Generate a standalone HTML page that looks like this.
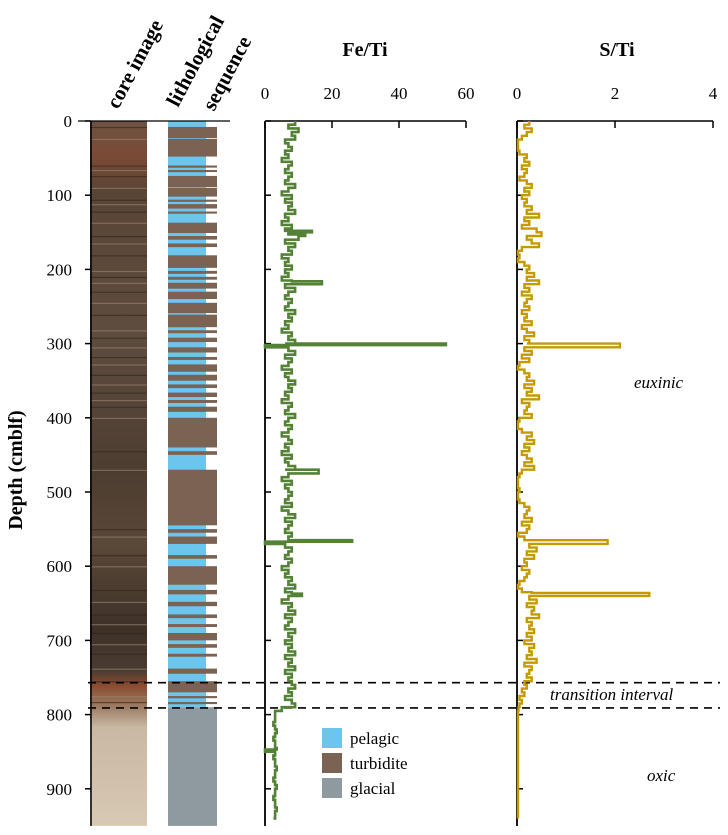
<!DOCTYPE html>
<html><head><meta charset="utf-8"><style>
body{margin:0;background:#fff;}
svg{display:block;font-family:"Liberation Serif",serif;}
</style></head><body>
<svg id="chart" width="728" height="835" viewBox="0 0 728 835" xmlns="http://www.w3.org/2000/svg">
<defs>
<linearGradient id="coreGrad" x1="0" y1="0" x2="0" y2="1">
<stop offset="0" stop-color="#6e5342"/><stop offset="0.05" stop-color="#7a4a36"/><stop offset="0.1" stop-color="#5a4535"/>
<stop offset="0.3" stop-color="#5e4c3f"/><stop offset="0.5" stop-color="#4d3d30"/><stop offset="0.6" stop-color="#5a4838"/>
<stop offset="0.72" stop-color="#3e3128"/><stop offset="0.78" stop-color="#4a3c33"/><stop offset="0.8" stop-color="#8a4a2e"/>
<stop offset="0.83" stop-color="#9a7a62"/><stop offset="0.86" stop-color="#c9b8a2"/><stop offset="1" stop-color="#d8c9b4"/>
</linearGradient>
</defs>
<g id="core"></g>
<g id="litho"></g>
<g id="axes"></g>
<g id="series"></g>
<g id="labels"></g>
</svg>
<script>
const feValues=[9,7,10,8,9,6,7,8,6,7,5,8,7,6,8,7,6,9,7,5,8,
6,8,7,9,6,7,5,8,6,7,10,6,9,7,8,5,7,6,8,6,
7,5,8,6,9,7,6,8,7,6,9,7,8,6,7,5,8,7,9,6,
7,9,6,8,7,5,8,6,7,9,7,8,6,7,5,8,7,6,9,7,
6,8,7,5,7,8,6,7,5,8,6,7,9,6,7,5,8,6,7,8,
7,6,8,5,7,9,6,8,7,6,8,7,9,6,8,7,6,8,7,5,
7,6,8,7,9,6,8,7,5,8,7,9,6,8,7,6,9,7,8,6,
8,7,9,6,8,7,9,6,8,7,8,9,7,8,6,8,9,5,3,3,
3,2.5,3,3.5,3,2.5,3,3,3.5,3,2.5,3,3,3.5,3,3,2.5,3,3.5,3,3,2.5,3,3,3.5,3,3,2.5];
const feSpikeDepth=[148,153,216,300,302,470,565,567,637,847];
const feSpikeValues=[14,12,17,54,0,16,26,0,11,0];
const sValues=[.25,.15,.3,.2,.1,.02,.02,.02,.05,.2,.15,.25,.1,.2,.15,.05,.2,.3,.15,.25,.1,
.2,.15,.3,.2,.45,.15,.25,.1,.4,.5,.2,.3,.45,.1,.02,.05,.02,.15,.25,.2,
.35,.2,.45,.15,.25,.1,.3,.2,.15,.25,.1,.2,.15,.3,.1,.2,.35,.15,.25,.2,
.15,.3,.1,.25,.05,.02,.15,.25,.2,.35,.15,.3,.2,.45,.1,.25,.2,.15,.3,.05,
.02,.02,.1,.3,.2,.35,.15,.25,.1,.2,.3,.15,.35,.1,.05,.02,.02,.02,.05,.02,
.02,.05,.15,.25,.2,.15,.3,.1,.25,.2,.02,.15,.3,.25,.4,.2,.35,.15,.2,.1,
.25,.2,.15,.05,.02,.1,.3,.25,.4,.2,.35,.3,.45,.2,.3,.25,.35,.2,.3,.15,
.35,.25,.3,.2,.4,.15,.3,.25,.2,.3,.15,.2,.1,.15,.05,.1,.05,.03,.02,.02,
.02,.02,.02,.02,.02,.02,.02,.02,.02,.02,.02,.02,.02,.02,.02,.02,.02,.02,.02,.02,.02,.02,.02,.02,.02,.02,.02,.02];
const sSpikeDepth=[300,565,636];
const sSpikeValues=[2.1,1.85,2.7];
const depthStep=5;
const depthTicks=[0,100,200,300,400,500,600,700,800,900];
const feTicks=[0,20,40,60];
const sTicks=[0,2,4];
const turbidites=[[8,23],[24,48],[60,63],[66,69],[74,89],[90,102],[106,109],[112,118],[122,125],[137,151],[155,160],[165,170],[181,198],[202,206],[210,214],[218,226],[230,240],[245,259],[261,278],[282,286],[292,298],[305,312],[318,322],[328,338],[342,350],[355,360],[366,372],[376,380],[385,392],[400,440],[445,450],[470,545],[550,555],[560,570],[585,590],[600,625],[632,638],[648,654],[665,670],[678,682],[690,700],[705,710],[718,722],[738,745],[755,770],[775,778],[783,786]];
const pelagicEnd=790, coreBottom=950;

const NS="http://www.w3.org/2000/svg";
const y=d=>121+d*0.742;
const xFe=v=>265+v*3.35;
const xS=v=>517+v*49;
function mk(tag,attrs,parent,text){const e=document.createElementNS(NS,tag);for(const k in attrs)e.setAttribute(k,attrs[k]);if(text!==undefined)e.textContent=text;document.getElementById(parent).appendChild(e);return e;}

let c=mk('rect',{x:90,y:121,width:57,height:y(coreBottom)-121,fill:'url(#coreGrad)'},'core');


for(let i=0;i<turbidites.length;i++){const t=turbidites[i];
 let s=mk('rect',{x:90,y:y(t[0]),width:57,height:1.2,fill:(i%2?'#9a8574':'#2e241d'),opacity:0.6},'core');
 
 }

let p=mk('rect',{x:168,y:121,width:38,height:y(pelagicEnd)-121,fill:'#6cc5ec'},'litho');


for(const t of turbidites){
 let r=mk('rect',{x:168,y:y(t[0]),width:49,height:Math.max(1,y(t[1])-y(t[0])),fill:'#7b6353'},'litho');
 
 
 let w=mk('rect',{x:206,y:y(t[1]),width:11,height:1,fill:'#fff'},'litho');
 
 }
let g=mk('rect',{x:168,y:y(pelagicEnd),width:49,height:y(coreBottom)-y(pelagicEnd),fill:'#8f9aa0'},'litho');



function line(x1,y1,x2,y2,name,w,dash){const l=mk('line',{x1,y1,x2,y2,stroke:'#000','stroke-width':w||1.5},'axes');if(dash)l.setAttribute('stroke-dasharray',dash);
 
 return l;}
line(78,121,230,121,'core-top-line',1.2);
line(91,121,91,y(coreBottom),'depth-axis',1.5);
for(const d of depthTicks){line(85,y(d),91,y(d),'depth-tick');
 const t=mk('text',{x:72,y:y(d)+6,'text-anchor':'end','font-size':17},'labels',d);
 
 }
line(265,121,265,826,'fe-axis',1.8);
line(265,121,466,121,'fe-top-axis',1.5);
for(const v of feTicks){line(xFe(v),121,xFe(v),128,'fe-tick');
 const t=mk('text',{x:xFe(v),y:99,'text-anchor':'middle','font-size':17},'labels',v);
 
 }
for(const d of depthTicks){line(265,y(d),271,y(d),'fe-depth-tick');}
line(517,121,517,826,'s-axis',1.8);
line(517,121,713,121,'s-top-axis',1.5);
for(const v of sTicks){line(xS(v),121,xS(v),128,'s-tick');
 const t=mk('text',{x:xS(v),y:99,'text-anchor':'middle','font-size':17},'labels',v);
 
 }
for(const d of depthTicks){line(517,y(d),523,y(d),'s-depth-tick');}

function buildPath(vals,sd,sv,xf){const pts=[];vals.forEach((v,i)=>pts.push([i*depthStep,v]));
 sd.forEach((d,i)=>pts.push([d,sv[i]]));pts.sort((a,b)=>a[0]-b[0]);
 let dstr='M'+xf(pts[0][1]).toFixed(1)+','+y(pts[0][0]).toFixed(1);
 for(let i=1;i<pts.length;i++){const yy=y(pts[i][0]).toFixed(1);
  dstr+=' V'+yy+' H'+xf(pts[i][1]).toFixed(1);}
 return dstr;}
let fe=mk('path',{d:buildPath(feValues,feSpikeDepth,feSpikeValues,xFe),fill:'none',stroke:'#538135','stroke-width':2.6},'series');


let s=mk('path',{d:buildPath(sValues,sSpikeDepth,sSpikeValues,xS),fill:'none',stroke:'#c49a00','stroke-width':2.4},'series');



line(88,y(757),720,y(757),'transition-top-line',1.6,'8,6');
line(88,y(791),720,y(791),'transition-bottom-line',1.6,'8,6');

function txt(x,yy,str,name,extra){const t=mk('text',Object.assign({x,y:yy,'font-size':17},extra||{}),'labels',str);
 
 return t;}
txt(365,56,'Fe/Ti','fe-ti-title',{'text-anchor':'middle','font-weight':'bold','font-size':20});
txt(617,56,'S/Ti','s-ti-title',{'text-anchor':'middle','font-weight':'bold','font-size':20});
txt(0,0,'Depth (cmblf)','depth-axis-title',{'text-anchor':'middle','font-weight':'bold','font-size':20,transform:'translate(22,470) rotate(-90)'});
txt(0,0,'core image','core-image-title',{'font-weight':'bold','font-size':21,transform:'translate(118,110) rotate(-62)'});
txt(0,0,'lithological','litho-title',{'font-weight':'bold','font-size':21,transform:'translate(178,108) rotate(-62)'});
txt(0,0,'sequence','litho-title-2',{'font-weight':'bold','font-size':21,transform:'translate(214,112) rotate(-62)'});
txt(634,388,'euxinic','euxinic-label',{'font-style':'italic'});
txt(550,700,'transition interval','transition-label',{'font-style':'italic'});
txt(647,781,'oxic','oxic-label',{'font-style':'italic'});
const leg=[['pelagic','#6cc5ec'],['turbidite','#7b6353'],['glacial','#8f9aa0']];
leg.forEach((l,i)=>{const r=mk('rect',{x:322,y:728+i*25,width:20,height:20,fill:l[1]},'labels');
 
 
 txt(350,744+i*25,l[0],'legend-entry-'+l[0]);});
</script>
</body></html>
